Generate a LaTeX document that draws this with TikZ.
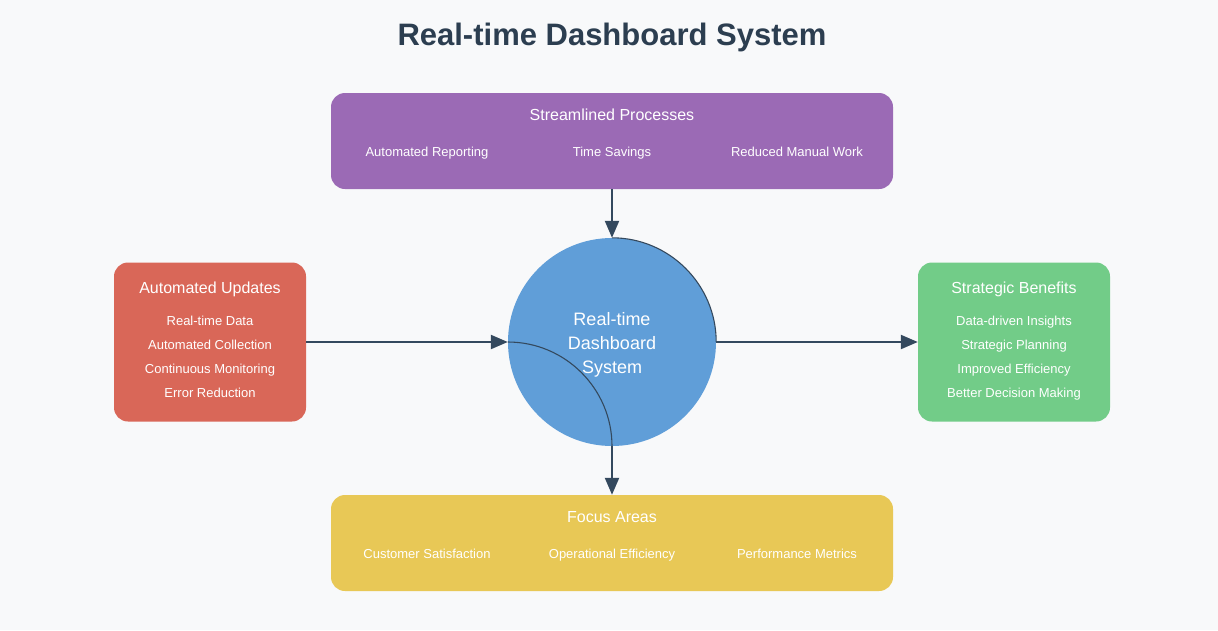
\documentclass[tikz,border=0pt]{standalone}
\usepackage{fontspec}
\setmainfont{Liberation Sans}
\usetikzlibrary{arrows.meta}
\definecolor{bg}{HTML}{F8F9FA}
\definecolor{titlec}{HTML}{2C3E50}
\definecolor{arrc}{HTML}{34495E}
\definecolor{purp}{HTML}{9B6AB5}
\definecolor{redb}{HTML}{D96758}
\definecolor{greenb}{HTML}{72CC88}
\definecolor{yellowb}{HTML}{E8C856}
\definecolor{blueb}{HTML}{609ED8}
\tikzset{
  box/.style={rounded corners=14pt, draw=none, inner sep=0pt},
  boxtitle/.style={text=white, font=\fontsize{16}{19}\selectfont, inner sep=0pt, anchor=base},
  item/.style={text=white, font=\fontsize{13}{16}\selectfont, inner sep=0pt, anchor=base},
  ctxt/.style={text=white, font=\fontsize{18}{22}\selectfont, inner sep=0pt, anchor=base},
  arr/.style={draw=arrc, line width=2.2pt, -{Triangle[length=17pt,width=14pt]}},
  thin/.style={draw=arrc, line width=1.1pt}
}
\begin{document}
\begin{tikzpicture}[x=1pt,y=-1pt]
\fill[bg] (0,0) rectangle (1218,630);
\useasboundingbox (0,0) rectangle (1218,630);
\node[text=titlec, font=\bfseries\fontsize{31}{36}\selectfont, inner sep=0pt, anchor=base] (title) at (612,45.5) {Real-time Dashboard System};
% boxes
\node[box, fill=purp, minimum width=562pt, minimum height=96pt] (purple) at (612,141) {};
\node[box, fill=redb, minimum width=192pt, minimum height=159pt] (red) at (210,342) {};
\node[box, fill=greenb, minimum width=192pt, minimum height=159pt] (green) at (1014,342) {};
\node[box, fill=yellowb, minimum width=562pt, minimum height=96pt] (yellow) at (612,543) {};
\node[circle, fill=blueb, inner sep=0pt, minimum size=208pt] (circ) at (612,342) {};
% connectors
\draw[arr] (purple.south) -- (circ.north);
\draw[arr] (red.east) -- (circ.west);
\draw[thin] (circ.north) .. controls +(57.4,0) and +(0,-57.4) .. (circ.east);
\draw[arr] (circ.east) -- (green.west);
\draw[thin] (circ.west) .. controls +(57.4,0) and +(0,-57.4) .. (circ.south);
\draw[arr] (circ.south) -- (yellow.north);
% circle text
\node[ctxt] (c1) at (612,325.5) {Real-time};
\node[ctxt] (c2) at (612,349.5) {Dashboard};
\node[ctxt] (c3) at (612,373.5) {System};
% purple texts
\node[boxtitle] (pt) at (612,120.8) {Streamlined Processes};
\node[item] (p1) at (427,156.7) {Automated Reporting};
\node[item] (p2) at (612,156.7) {Time Savings};
\node[item] (p3) at (797,156.7) {Reduced Manual Work};
% red texts
\node[boxtitle] (rt) at (210,293.8) {Automated Updates};
\node[item] (r1) at (210,325.7) {Real-time Data};
\node[item] (r2) at (210,349.7) {Automated Collection};
\node[item] (r3) at (210,373.7) {Continuous Monitoring};
\node[item] (r4) at (210,397.7) {Error Reduction};
% green texts
\node[boxtitle] (gt) at (1014,293.8) {Strategic Benefits};
\node[item] (g1) at (1014,325.7) {Data-driven Insights};
\node[item] (g2) at (1014,349.7) {Strategic Planning};
\node[item] (g3) at (1014,373.7) {Improved Efficiency};
\node[item] (g4) at (1014,397.7) {Better Decision Making};
% yellow texts
\node[boxtitle] (yt) at (612,522.8) {Focus Areas};
\node[item] (y1) at (427,558.7) {Customer Satisfaction};
\node[item] (y2) at (612,558.7) {Operational Efficiency};
\node[item] (y3) at (797,558.7) {Performance Metrics};
\end{tikzpicture}
\end{document}
